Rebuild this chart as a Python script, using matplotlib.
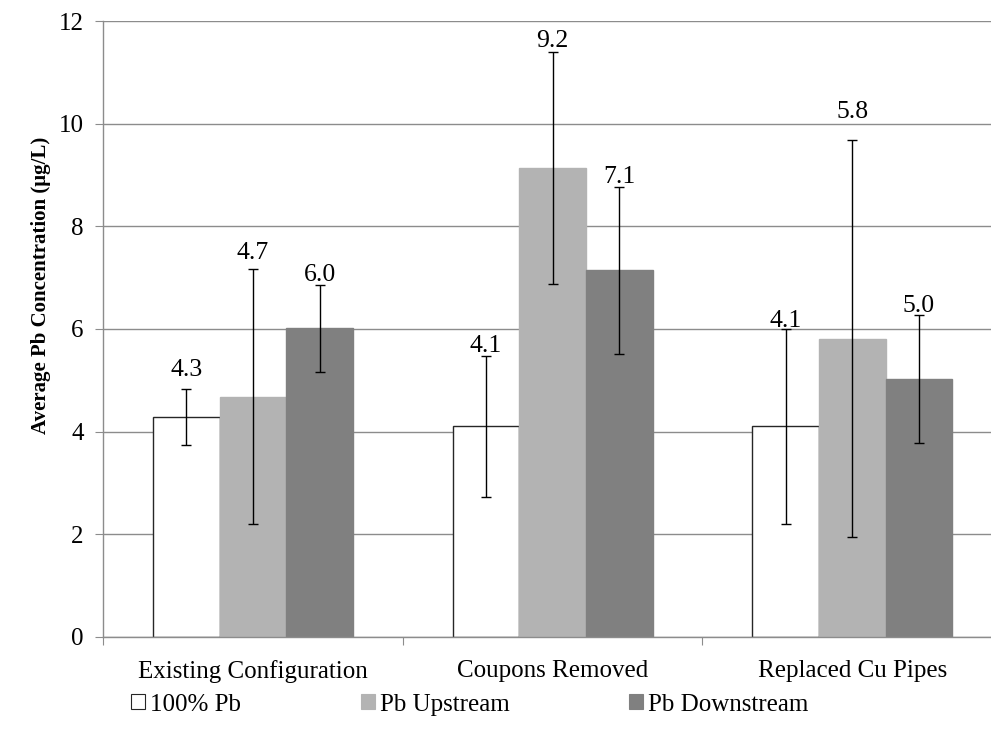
import numpy as np
import matplotlib.pyplot as plt
from matplotlib.patches import Patch

plt.rcParams['font.family'] = ['Liberation Serif', 'DejaVu Serif']

# data
categories = ['Existing Configuration', 'Coupons Removed', 'Replaced Cu Pipes']
series = ['100% Pb', 'Pb Upstream', 'Pb Downstream']
means = [
    [4.28, 4.10, 4.10],   # 100% Pb
    [4.68, 9.14, 5.81],   # Pb Upstream
    [6.01, 7.14, 5.02],   # Pb Downstream
]
errs = [
    [0.54, 1.38, 1.90],
    [2.48, 2.26, 3.87],
    [0.85, 1.62, 1.25],
]
labels = [
    ['4.3', '4.1', '4.1'],
    ['4.7', '9.2', '5.8'],
    ['6.0', '7.1', '5.0'],
]
# baseline of each value label (data units)
label_y = [
    [5.09, 5.56, 6.03],
    [7.36, 11.50, 10.11],
    [6.93, 8.84, 6.34],
]
colors = ['white', '#b3b3b3', '#808080']
edges = ['#262626', '#b3b3b3', '#808080']

fig = plt.figure(figsize=(9.91, 7.31), dpi=100)
# plot area runs a bit past the right edge of the canvas
ax = fig.add_axes([0.1042, 0.129, 0.907, 0.842])

x = np.arange(len(categories))
w = 1 / 4.5
for i in range(3):
    pos = x + (i - 1) * w
    ax.bar(pos, means[i], width=w, color=colors[i], edgecolor=edges[i],
           linewidth=1.0, zorder=2)
    ax.errorbar(pos, means[i], yerr=errs[i], fmt='none', ecolor='black',
                elinewidth=1.0, capsize=3.5, capthick=1.0, zorder=3)
    for j in range(3):
        ax.text(pos[j], label_y[i][j], labels[i][j], ha='center', va='baseline',
                fontsize=18.5, zorder=4)

ax.set_xlim(-0.5, 2.5)
ax.set_ylim(0, 12)
ax.set_yticks(np.arange(0, 13, 2))
ax.yaxis.grid(True, color='#8c8c8c', linewidth=1.0, zorder=0)
ax.set_axisbelow(True)

ax.set_xticks([-0.5, 0.5, 1.5, 2.5])
ax.set_xticklabels([])
ax.set_xticks(x, minor=True)
ax.set_xticklabels(categories, minor=True, fontsize=18)
ax.tick_params(axis='x', which='minor', length=0, pad=17)
ax.tick_params(axis='x', which='major', length=6, color='#8c8c8c')
ax.tick_params(axis='y', length=6, color='#8c8c8c', labelsize=18, pad=8)

for s in ['top', 'right']:
    ax.spines[s].set_visible(False)
for s in ['left', 'bottom']:
    ax.spines[s].set_color('#8c8c8c')
    ax.spines[s].set_linewidth(1.0)

ax.set_ylabel('Average Pb Concentration (μg/L)', fontsize=15, fontweight='bold')
ax.yaxis.set_label_coords(-0.058, 0.57)

handles = [Patch(facecolor=colors[i], edgecolor=edges[i], linewidth=0.8)
           for i in range(3)]
fig.legend(handles, series, loc='center', bbox_to_anchor=(0.474, 0.036), ncol=3,
           frameon=False, fontsize=18, handlelength=0.55, handleheight=0.55,
           handletextpad=0.2, columnspacing=4.8)

fig.savefig('out.png', dpi=100)
